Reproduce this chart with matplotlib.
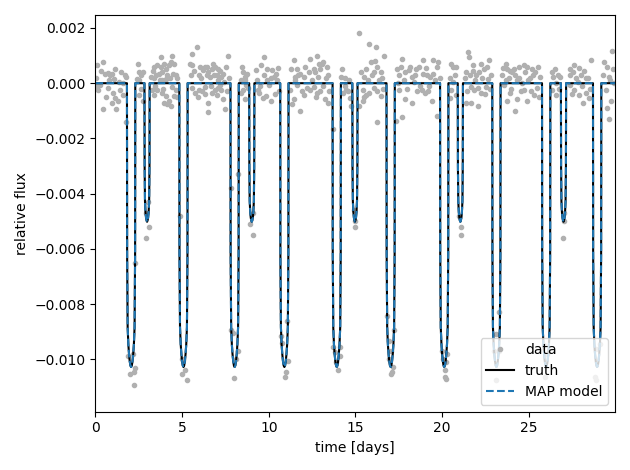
import numpy as np
import matplotlib
matplotlib.use("Agg")
import matplotlib.pyplot as plt

# observed points (time in days, flux in parts per thousand)
t_out = [0.03, 0.08, 0.12, 0.17, 0.27, 0.45, 0.45, 0.55, 0.74, 0.74, 0.80, 0.83, 0.93, 0.93,
         1.02, 1.12, 1.21, 1.31, 1.40, 1.50, 1.59, 1.69, 1.78,
         2.40, 2.44, 2.54, 2.54, 2.63, 2.73, 2.73,
         3.20, 3.26, 3.39, 3.39, 3.39, 3.49, 3.58, 3.58, 3.67, 3.77, 3.77, 3.86, 3.86, 3.86,
         3.96, 3.96, 4.05, 4.05, 4.15, 4.15, 4.24, 4.24, 4.34, 4.34, 4.43, 4.43, 4.53, 4.53,
         4.62, 4.62, 4.72,
         5.47, 5.57, 5.57, 5.57, 5.76, 5.85, 5.95, 5.95, 6.04, 6.14, 6.23, 6.33, 6.33, 6.42,
         6.52, 6.52, 6.52, 6.61, 6.70, 6.70, 6.80, 6.89, 6.89, 6.99, 6.99, 7.08, 7.08, 7.18,
         7.27, 7.27, 7.37, 7.37, 7.46, 7.56, 7.65,
         8.41, 8.41, 8.50, 8.50, 8.60, 8.60, 8.69, 8.79,
         9.26, 9.36, 9.45, 9.55, 9.64, 9.73, 9.83, 9.92, 10.02, 10.11, 10.21, 10.30, 10.40,
         10.50, 10.59,
         11.25, 11.44, 11.44, 11.53, 11.63, 11.63, 11.82, 11.82, 12.01, 12.01, 12.20, 12.39,
         12.39, 12.58, 12.58, 12.67, 12.77, 12.77, 12.86, 12.95, 12.95, 13.05, 13.14, 13.24,
         13.33, 13.43, 13.43, 11.34,
         14.19, 14.28, 14.37, 14.47, 14.56, 14.66, 14.75,
         15.23, 15.23, 15.42, 15.42, 15.51, 15.61, 15.61, 15.80, 15.80, 15.89, 16.08, 16.08,
         16.17, 16.27, 16.27, 16.27, 16.46, 16.46, 16.55, 16.65,
         17.31, 17.41, 17.50, 17.50, 17.69, 17.69, 17.88, 17.88, 18.07, 18.26, 18.26, 18.45,
         18.54, 18.64, 18.83, 18.92, 19.02, 19.11, 19.21, 19.30, 19.39, 19.49, 19.68, 19.68,
         19.77, 19.85,
         20.44, 20.53, 20.53, 20.63, 20.72, 20.82,
         21.38, 21.38, 21.48, 21.57, 21.67, 21.67, 21.76, 21.86, 21.95, 22.05, 22.05, 22.24,
         22.24, 22.42, 22.52, 22.61, 22.71, 22.80,
         23.47, 23.56, 23.66, 23.75, 23.75, 23.85, 23.94, 24.03, 24.13, 24.22, 24.32, 24.32,
         24.41, 24.60, 24.70, 24.70, 24.89, 24.89, 25.08, 25.17, 25.27, 25.36, 25.45, 25.64,
         26.31, 26.40, 26.50, 26.59, 26.69, 26.78,
         27.35, 27.35, 27.54, 27.63, 27.63, 27.82, 27.92, 28.01, 28.11, 28.30, 28.30, 28.49,
         28.58,
         29.34, 29.43, 29.53, 29.62, 29.62, 29.72, 29.81, 29.90]
f_out = [0.20, 0.65, -0.10, -0.24, -0.06, 0.77, -0.95, 0.35, 0.38, -0.18, 0.12, 0.30, 0.35, -0.71,
         -0.35, -0.53, -0.95, -0.65, -0.24, 0.41, -0.41, 0.30, 0.24,
         0.15, 0.71, 0.41, -0.41, 0.30, 0.41, -0.65,
         0.24, -0.24, 0.59, 0.18, -0.41, 0.30, 0.65, -0.24, 0.35, 0.59, 0.95, 0.41, 0.12, -0.35,
         0.71, -0.71, 0.53, -0.47, 0.30, -0.77, 0.65, -0.65, 0.77, -0.83, 1.00, -0.12, 0.71, -0.47,
         0.30, -0.24, 0.18,
         0.71, 1.06, 0.65, -0.18, -0.35, 1.30, 0.30, -0.24, 0.59, -0.30, 0.47, 0.59, -0.12, 0.30,
         0.41, -0.71, -1.06, 0.24, 0.53, -0.35, 0.71, 0.59, -0.24, 0.30, -0.41, 0.12, -0.18, -0.06,
         0.24, -0.24, 0.35, -0.59, -0.95, 0.59, 1.00,
         0.12, -0.35, 0.41, -0.24, 0.24, -0.59, -0.06, -0.18,
         0.47, -0.24, -0.35, 0.65, -0.53, 0.95, -0.47, 0.12, -0.06, -0.65, 0.47, 0.24, 0.35,
         0.10, -0.30,
         -0.24, 0.83, -0.59, 0.24, 0.53, -0.06, 0.35, -1.00, 0.24, -0.41, -0.18, 0.89,
         -0.24, 0.53, -0.12, 0.41, 1.00, -0.35, 0.24, 0.53, -0.30, 0.71, 0.77, -0.59,
         0.59, 0.30, -0.71, -0.77,
         0.24, -0.35, 0.18, -0.24, -0.30, -0.53, -0.83,
         1.83, -0.83, -0.24, -0.65, 0.24, 0.53, -0.41, 1.42, -0.35, 0.77, 0.41, -0.18,
         1.30, 0.59, -0.30, -1.42, 0.41, -0.47, 0.18, 1.00,
         -1.36, 0.53, 0.30, -0.24, 0.89, -1.24, 0.41, -0.59, 0.47, 0.24, -0.71, 0.30,
         -0.30, 0.59, -0.24, 0.83, -0.35, 0.30, -0.30, 0.24, -0.65, 0.83, 0.59, -1.18,
         0.77, 0.20,
         -0.53, 0.71, -0.24, 0.59, 0.30, -0.41,
         0.41, -0.71, 1.12, 0.95, -0.12, -0.71, 0.65, -0.24, 0.30, -0.18, -0.83, 0.71,
         -0.35, 0.53, -0.12, 0.59, 0.83, 0.30,
         0.30, -0.06, 0.71, 0.53, -0.65, 0.18, -0.35, 0.41, 0.53, -1.00, 0.12, -0.59,
         0.59, 0.00, 0.65, -0.24, 0.59, -0.65, 0.18, 0.53, -0.41, 0.41, -0.18, 0.24,
         -0.24, 0.24, 0.53, -0.41, 0.30, 0.24,
         0.53, -0.06, 0.41, 0.65, -0.24, 0.06, -0.41, 0.30, -0.71, 0.18, -0.35, -0.53,
         0.83,
         0.77, -0.24, -0.89, 0.24, -1.30, -0.65, 1.18, 0.00]

# more points from the dense band around zero
t_band = [0.30, 0.60, 1.05, 1.15, 1.35, 1.60, 2.50, 2.65,
          3.30, 3.45, 3.70, 3.90, 4.10, 4.30, 4.50, 4.70,
          5.50, 5.70, 5.90, 6.10, 6.30, 6.45, 6.65, 6.85, 7.05, 7.20, 7.40, 7.60, 7.70,
          8.45, 8.65, 8.75,
          9.30, 9.50, 9.70, 9.90, 10.10, 10.35, 10.55,
          11.30, 11.50, 11.70, 11.90, 12.10, 12.30, 12.50, 12.70, 12.90, 13.10, 13.30, 13.50,
          14.25, 14.40, 14.60,
          15.30, 15.50, 15.70, 15.95, 16.10, 16.35, 16.60,
          17.45, 17.60, 17.80, 17.95, 18.15, 18.35, 18.50, 18.70, 18.90, 19.05, 19.25, 19.45,
          19.60,
          20.48, 20.60, 20.78,
          21.30, 21.45, 21.60, 21.80, 21.90, 22.10, 22.30, 22.45, 22.65, 22.75,
          23.50, 23.70, 23.90, 24.00, 24.20, 24.45, 24.55, 24.80, 24.95, 25.10, 25.25, 25.50,
          25.60,
          26.35, 26.55, 26.72,
          27.40, 27.50, 27.70, 27.90, 28.05, 28.20, 28.40, 28.55,
          29.30, 29.50, 29.70, 29.85]
f_band = [0.45, -0.50, 0.15, 0.50, 0.05, 0.00, 0.10, -0.20,
          0.45, -0.10, 0.10, -0.20, 0.15, 0.20, 0.35, -0.50,
          0.30, 0.45, -0.50, 0.20, -0.40, 0.60, -0.10, 0.30, 0.50, 0.45, 0.05, -0.30, 0.20,
          0.60, 0.10, 0.35,
          0.10, -0.10, 0.30, 0.50, 0.20, -0.40, 0.55,
          0.50, 0.10, 0.30, -0.30, 0.60, 0.40, 0.10, -0.50, 0.70, -0.10, 0.20, -0.30,
          0.50, -0.10, 0.10,
          0.40, -0.50, 0.10, 0.30, 0.80, 0.10, -0.20,
          0.00, 0.60, 0.10, -0.20, 0.60, 0.05, 0.50, -0.10, 0.35, 0.55, -0.10, 0.35,
          0.10,
          0.20, 0.05, 0.60,
          0.20, -0.30, 0.30, 0.45, 0.10, 0.40, 0.20, -0.40, 0.15, -0.20,
          0.55, 0.10, 0.45, -0.20, 0.30, 0.20, -0.30, 0.40, 0.10, -0.30, 0.30, 0.60,
          -0.50,
          0.40, 0.00, -0.20,
          0.30, -0.40, 0.20, 0.55, -0.10, 0.45, 0.20, -0.20,
          0.30, 0.60, 0.10, 0.50]

# points inside the eclipses
t_in = [1.78, 1.88, 1.97, 2.16, 2.20, 2.25, 2.28, 2.29,
        2.92, 2.92, 3.05, 3.07,
        4.90, 5.00, 5.00, 5.06, 5.15, 5.28,
        7.82, 7.84, 7.94, 8.00, 8.13, 8.22, 8.24,
        8.94, 9.07, 9.09,
        10.68, 10.78, 10.91, 10.97, 11.06, 11.10,
        13.68, 13.71, 13.81, 13.90, 13.99, 14.09, 14.09,
        14.90, 14.95, 15.00,
        16.83, 16.93, 16.93, 17.03, 17.03, 17.12, 17.18, 17.22,
        20.00, 20.06, 20.15, 20.19, 20.25, 20.25, 20.30,
        21.00, 21.08, 21.10,
        23.00, 23.09, 23.09, 23.30, 23.30,
        25.85, 25.93, 26.05,
        26.95, 27.00, 27.05,
        28.82, 28.86, 28.90, 29.09]
f_in = [-1.42, -9.87, -10.52, -9.81, -10.93, -10.46, -10.30, -6.50,
        -5.60, -4.70, -4.30, -5.20,
        -4.80, -9.99, -10.52, -10.02, -10.40, -10.76,
        -3.80, -8.93, -9.04, -10.67, -9.99, -9.69, -3.30,
        -5.10, -4.70, -5.50,
        -9.16, -9.40, -10.64, -10.46, -8.63, -10.05,
        -1.65, -9.57, -9.75, -10.10, -10.40, -9.57, -9.87,
        -4.60, -5.00, -5.20,
        -8.45, -9.34, -9.99, -9.69, -10.52, -10.46, -10.28, -8.93,
        -9.69, -9.99, -10.64, -10.40, -10.10, -10.70, -9.81,
        -4.80, -5.20, -5.50,
        -9.69, -9.10, -10.76, -8.27, -9.69,
        -9.50, -10.64, -9.80,
        -5.60, -5.00, -4.70,
        -10.64, -9.63, -10.76, -9.46]

# eclipse centres and shapes
prim_t = [2.06, 5.08, 8.03, 10.90, 13.92, 17.03, 20.12, 23.13, 26.00, 28.94]
prim_depth = 10.28
prim_off = [-0.26, -0.24, -0.23, -0.20, -0.16, -0.12, -0.08, -0.04, 0.0,
            0.04, 0.08, 0.12, 0.16, 0.20, 0.23, 0.24, 0.26]
prim_frac = [0, 0, 0.60, 0.86, 0.92, 0.955, 0.98, 0.995, 1.0,
             0.995, 0.98, 0.955, 0.92, 0.86, 0.60, 0, 0]
sec_t = [2.98, 9.02, 14.97, 21.05, 27.00]
sec_depth = 5.02
sec_off = [-0.18, -0.15, -0.14, -0.12, -0.09, -0.06, -0.03, 0.0,
           0.03, 0.06, 0.09, 0.12, 0.14, 0.15, 0.18]
sec_frac = [0, 0, 0.60, 0.85, 0.93, 0.97, 0.99, 1.0,
            0.99, 0.97, 0.93, 0.85, 0.60, 0, 0]

t_start, t_end = 0.0, 29.97

# assemble the model curve from the eclipse list
events = [(c, prim_off, prim_frac, prim_depth) for c in prim_t] + \
         [(c, sec_off, sec_frac, sec_depth) for c in sec_t]
events.sort(key=lambda e: e[0])
x_model = [t_start]
y_model = [0.0]
for c, off, frac, depth in events:
    for o, fr in zip(off, frac):
        x_model.append(c + o)
        y_model.append(-fr * depth)
x_model.append(t_end)
y_model.append(0.0)

x = np.array(t_out + t_band + t_in)
y = np.array(f_out + f_band + f_in) * 1e-3
x_model = np.array(x_model)
y_model = np.array(y_model) * 1e-3

plt.figure(figsize=(6.3, 4.7), dpi=100)
plt.plot(x, y, ".", color="#b0b0b0", label="data")
plt.plot(x_model, y_model, "k", label="truth")
plt.plot(x_model, y_model, "--C0", label="MAP model")
plt.legend(fontsize=10, loc="lower right")
plt.xlim(t_start, t_end)
plt.ylim(-0.0119, 0.00247)
plt.ylabel("relative flux")
plt.xlabel("time [days]")
plt.tight_layout()
plt.savefig("out.png")
